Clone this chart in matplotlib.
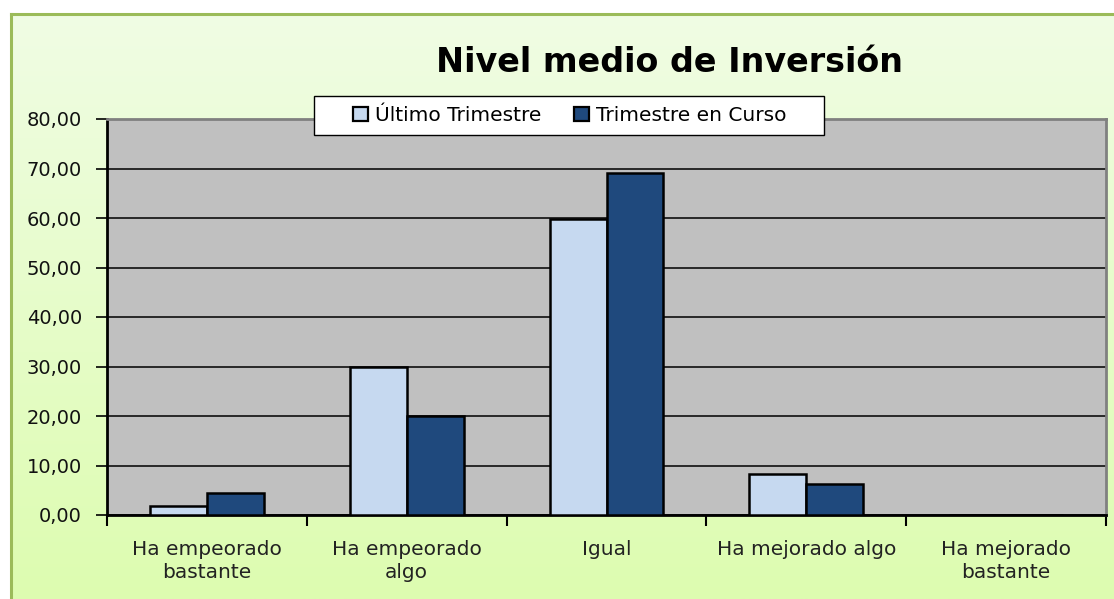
import numpy as np
import matplotlib
matplotlib.use("Agg")
import matplotlib.pyplot as plt
from matplotlib.patches import Rectangle
from matplotlib.lines import Line2D

categories = ["Ha empeorado\nbastante", "Ha empeorado\nalgo", "Igual",
              "Ha mejorado algo", "Ha mejorado\nbastante"]
ultimo = [1.9, 30.0, 59.8, 8.2, 0.0]
en_curso = [4.4, 20.0, 69.1, 6.3, 0.0]
series_labels = ["Último Trimestre", "Trimestre en Curso"]
yticks = [0, 10, 20, 30, 40, 50, 60, 70, 80]
ytick_labels = [f"{v:.2f}".replace(".", ",") for v in yticks]

LIGHT = "#C6D9F0"
DARK = "#1F497D"
W, H = 1114, 599

plt.rcParams["font.family"] = ["DejaVu Sans"]

fig = plt.figure(figsize=(W / 100, H / 100), dpi=100)
fig.patch.set_facecolor("white")

# chart area background: vertical gradient with green border top/left
bg = fig.add_axes([11 / W, 0, 1 - 11 / W, 1 - 14 / H], zorder=0)
top = np.array([240, 253, 228]) / 255
bot = np.array([221, 252, 176]) / 255
t = np.linspace(0, 1, 256)[:, None]
grad = top[None, None, :] * (1 - t[..., None]) + bot[None, None, :] * t[..., None]
grad = np.repeat(grad, 2, axis=1)
bg.imshow(grad, aspect="auto", extent=[0, 1, 0, 1], origin="upper")
bg.set_xlim(0, 1)
bg.set_ylim(0, 1)
bg.axis("off")
fig.add_artist(Line2D([11 / W, 1], [1 - 14 / H, 1 - 14 / H],
                      color="#9BBB59", lw=2.2, transform=fig.transFigure))
fig.add_artist(Line2D([11 / W, 11 / W], [0, 1 - 14 / H],
                      color="#9BBB59", lw=2.2, transform=fig.transFigure))

ax = fig.add_axes([107 / W, 1 - 515 / H, (1106 - 107) / W, (515 - 119) / H], zorder=1)
ax.set_facecolor("#C0C0C0")

x = np.arange(len(categories))
w = 0.285
ax.bar(x - w / 2, ultimo, width=w, color=LIGHT, edgecolor="black", linewidth=1.8,
       label=series_labels[0], zorder=3)
ax.bar(x + w / 2, en_curso, width=w, color=DARK, edgecolor="black", linewidth=1.8,
       label=series_labels[1], zorder=3)

ax.set_xlim(-0.5, len(categories) - 0.5)
ax.set_ylim(0, 80)
ax.set_yticks(yticks)
ax.set_yticklabels(ytick_labels, fontsize=14, color="#111111")
ax.yaxis.grid(True, color="black", linewidth=1.1, zorder=1)
ax.set_axisbelow(True)

ax.set_xticks(x)
ax.set_xticklabels(categories, fontsize=14.5, color="#222222", linespacing=1.3)
ax.tick_params(axis="x", length=0, pad=18)
ax.set_xticks(np.arange(-0.5, len(categories)), minor=True)
ax.tick_params(axis="x", which="minor", length=8, width=1.5, direction="out")
ax.tick_params(axis="y", length=8, width=1.2, direction="out", pad=10)

for s in ["top", "right"]:
    ax.spines[s].set_color("#808080")
    ax.spines[s].set_linewidth(2)
ax.spines["left"].set_linewidth(2)
ax.spines["bottom"].set_linewidth(2)

fig.text(670 / W, 1 - 63 / H, "Nivel medio de Inversión", ha="center", va="center",
         fontsize=24, fontweight="bold")

# legend box drawn by hand so its size matches the reference
fig.add_artist(Rectangle((314 / W, 1 - 135 / H), (824 - 314) / W, 39 / H,
                         transform=fig.transFigure, facecolor="white",
                         edgecolor="black", linewidth=1.0, zorder=4))
leg = fig.legend(loc="center", bbox_to_anchor=(570 / W, 1 - 115.5 / H), ncol=2,
                 fontsize=14.5, frameon=False, handlelength=0.75, handleheight=0.75,
                 handletextpad=0.35, columnspacing=1.6)
leg.set_zorder(5)
for h in leg.legend_handles:
    h.set_linewidth(1.6)

fig.savefig("out.png", dpi=100)
